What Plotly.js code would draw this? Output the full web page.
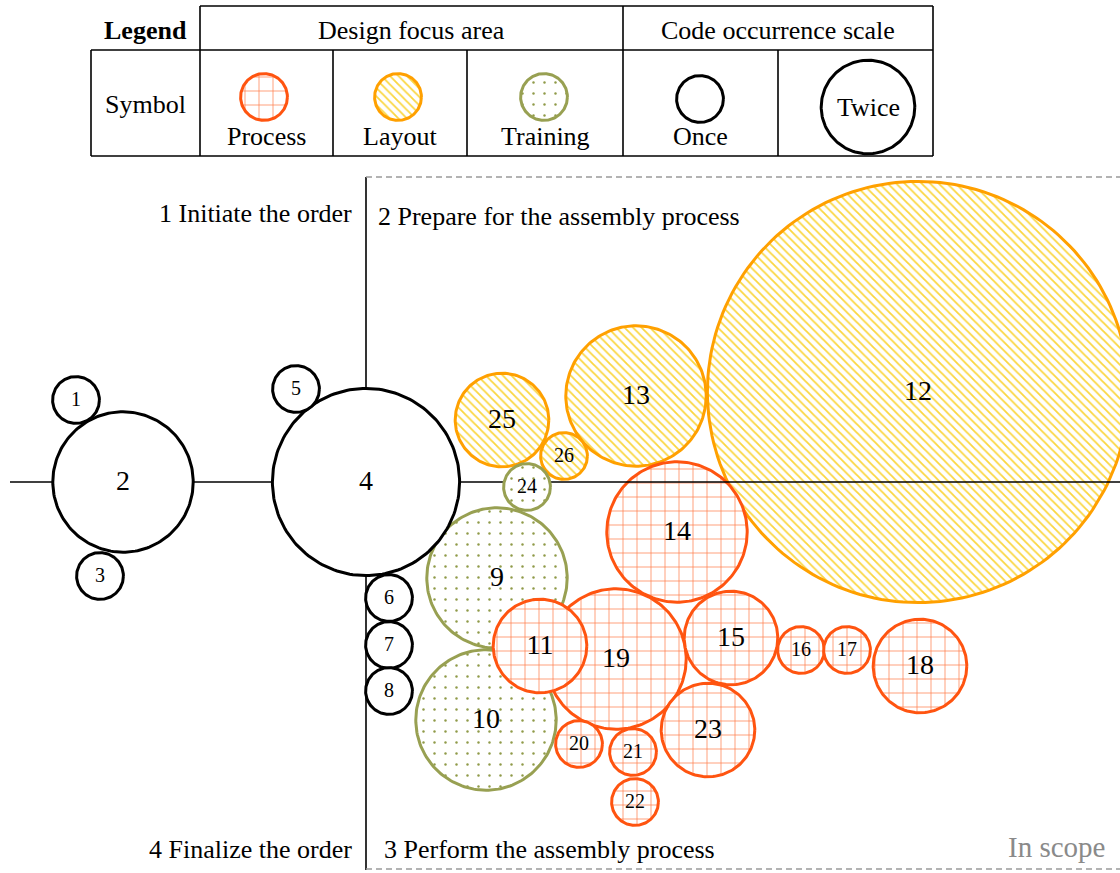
<!DOCTYPE html>
<html>
<head>
<meta charset="utf-8">
<script src="https://cdn.plot.ly/plotly-3.0.1.min.js"></script>
<style>html,body{margin:0;padding:0;background:#fff}</style>
</head>
<body>
<div id="chart" style="width:1120px;height:873px"></div>
<script>
// codes, their design focus area and how often they occurred
const codeIds   = ['1','2','3','4','5','6','7','8','9','10','11','12','13','14','15','16','17','18','19','20','21','22','23','24','25','26'];
const codeArea  = ['None','None','None','None','None','None','None','None','Training','Training','Process','Layout','Layout','Process','Process','Process','Process','Process','Process','Process','Process','Process','Process','Training','Layout','Layout'];
const codeCount = [1, 3, 1, 4, 1, 1, 1, 1, 3, 3, 2, 9, 3, 3, 2, 1, 1, 2, 3, 1, 1, 1, 2, 1, 2, 1];
// bubble centres (layout of the map, in px of the figure)
const codeX = [76, 123, 100, 366, 296, 389, 389, 389, 497, 486, 540, 918, 636, 677, 731, 801, 847, 920, 616, 579, 633, 635, 708, 527, 502, 564];
const codeY = [400, 482, 576, 482, 389, 598, 645, 691, 578, 720, 646, 392, 396, 532, 638, 650, 650, 666, 659, 744, 752, 802, 730, 487, 420, 456];

const areaNames  = ['Process', 'Layout', 'Training'];
const scaleNames = ['Once', 'Twice'];
const scaleCounts = [1, 2];
const phaseNames = ['1 Initiate the order', '2 Prepare for the assembly process', '3 Perform the assembly process', '4 Finalize the order'];

const FONT = 'Liberation Serif, Times New Roman, serif';
const UNIT_R = 23.4; // radius of a code seen once

const STYLE = {
  Process:  { line: '#ff5410', fill: 'white', pattern: { shape: '+', fgcolor: '#ff5a1a', bgcolor: 'white', size: 14, solidity: 0.1, fgopacity: 0.8 } },
  Layout:   { line: '#ffa000', fill: 'white', pattern: { shape: '\\', fgcolor: '#f9c800', bgcolor: 'white', size: 6, solidity: 0.3, fgopacity: 0.75 } },
  Training: { line: '#98a052', fill: 'white', pattern: { shape: '.', fgcolor: '#8f9a48', bgcolor: 'white', size: 11, solidity: 0.04 } },
  None:     { line: '#000000', fill: 'white' }
};

function circle(cx, cy, r, area, width) {
  const xs = [], ys = [];
  for (let k = 0; k <= 180; k++) {
    const a = 2 * Math.PI * k / 180;
    xs.push(cx + r * Math.cos(a));
    ys.push(cy + r * Math.sin(a));
  }
  const st = STYLE[area];
  const tr = {
    x: xs, y: ys, type: 'scatter', mode: 'lines', fill: 'toself',
    fillcolor: st.fill,
    line: { color: st.line, width: width || 3 },
    hoverinfo: 'skip'
  };
  if (st.pattern) tr.fillpattern = st.pattern;
  return tr;
}

function segment(x, y, color, width, dash) {
  return { x: x, y: y, type: 'scatter', mode: 'lines', line: { color: color, width: width, dash: dash || 'solid' }, hoverinfo: 'skip' };
}

// black circles and 24 sit on top of the phase axes, the rest below;
// training first, then bigger bubbles under smaller ones
const idx = codeIds.map((_, i) => i);
const onTop = i => codeArea[i] === 'None' || codeIds[i] === '24';
const rank = i => (codeArea[i] === 'Training' ? 0 : 100) - codeCount[i];
const below = idx.filter(i => !onTop(i)).sort((a, b) => rank(a) - rank(b));
const above = idx.filter(onTop);

const traces = [];
below.forEach(i => traces.push(circle(codeX[i], codeY[i], codeCount[i] * UNIT_R, codeArea[i])));

// phase axes and in-scope frame
traces.push(segment([10, 1120], [482, 482], '#000', 1.6));
traces.push(segment([366, 366], [177, 870], '#000', 1.6));
traces.push(segment([366, 1120], [177, 177], '#9a9a9a', 1.4, '6px,4px'));
traces.push(segment([366, 1120], [869, 869], '#9a9a9a', 1.4, '6px,4px'));

above.forEach(i => traces.push(circle(codeX[i], codeY[i], codeCount[i] * UNIT_R, codeArea[i])));

// code numbers
traces.push({
  x: codeX, y: codeY.map(v => v + 1), text: codeIds,
  type: 'scatter', mode: 'text', textposition: 'middle center',
  textfont: { family: FONT, color: '#000', size: codeCount.map(c => c >= 2 ? 28 : 20) },
  hoverinfo: 'skip'
});

// legend symbols
const legAreaX = [264, 398, 544];
areaNames.forEach((n, k) => traces.push(circle(legAreaX[k], 97, UNIT_R, n)));
const legScaleX = [700, 868];
const legScaleY = [99, 107];
scaleNames.forEach((n, k) => traces.push(circle(legScaleX[k], legScaleY[k], scaleCounts[k] * UNIT_R, 'None')));

// legend table grid
const grid = [
  [200, 6, 933, 6], [91, 50, 933, 50], [91, 156, 933, 156],
  [91, 50, 91, 156], [200, 6, 200, 156], [623, 6, 623, 156], [933, 6, 933, 156],
  [333, 50, 333, 156], [467, 50, 467, 156], [778, 50, 778, 156]
];
const shapes = grid.map(g => ({
  type: 'line', xref: 'x', yref: 'y', x0: g[0], y0: g[1], x1: g[2], y1: g[3],
  line: { color: '#000', width: 1.6 }, layer: 'above'
}));

function label(text, x, y, opts) {
  return Object.assign({
    text: text, x: x, y: y, xref: 'x', yref: 'y', showarrow: false,
    xanchor: 'center', yanchor: 'middle',
    font: { family: FONT, size: 26, color: '#000' }
  }, opts || {});
}

const annotations = [
  label('<b>Legend</b>', 145, 30),
  label('Symbol', 145, 104),
  label('Design focus area', 411, 30),
  label('Code occurrence scale', 778, 30),
  label(areaNames[0], 266, 136),
  label(areaNames[1], 400, 136),
  label(areaNames[2], 545, 136),
  label(scaleNames[0], 700, 136),
  label(scaleNames[1], 868, 107),
  label(phaseNames[0], 354, 213, { xanchor: 'right' }),
  label(phaseNames[1], 376, 216, { xanchor: 'left' }),
  label(phaseNames[2], 382, 849, { xanchor: 'left' }),
  label(phaseNames[3], 354, 849, { xanchor: 'right' }),
  label('In scope', 1107, 847, { xanchor: 'right', font: { family: FONT, size: 29, color: '#8a8a8a' } })
];

const layout = {
  width: 1120,
  height: 873,
  margin: { t: 0, r: 0, b: 0, l: 0 },
  paper_bgcolor: 'white',
  plot_bgcolor: 'white',
  showlegend: false,
  hovermode: false,
  xaxis: { range: [0, 1120], visible: false, fixedrange: true },
  yaxis: { range: [873, 0], visible: false, fixedrange: true },
  shapes: shapes,
  annotations: annotations
};

Plotly.newPlot('chart', traces, layout, { displayModeBar: false, staticPlot: true });
</script>
</body>
</html>
